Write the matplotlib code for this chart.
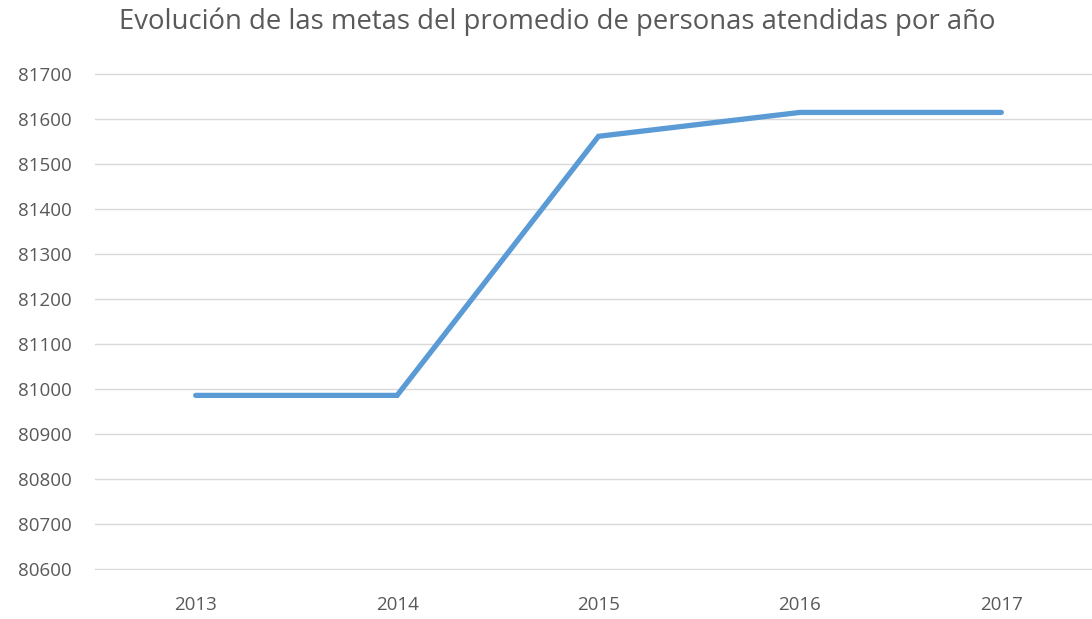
import matplotlib

matplotlib.use("Agg")
import matplotlib.pyplot as plt
import numpy as np

YEARS = ["2013", "2014", "2015", "2016", "2017"]
METAS = [80986, 80986, 81561, 81614, 81614]
Y_TICKS = list(range(80600, 81701, 100))

INK = "#595959"
LINE = "#5B9BD5"
GRID = "#D9D9D9"

plt.rcParams.update({"font.family": ["Open Sans", "DejaVu Sans"], "text.color": INK})

fig = plt.figure(figsize=(10.92, 6.19), dpi=100)
W, H = 1092, 619
# plot area in pixel coords: x 95..1102, y 73..570
ax = fig.add_axes([95 / W, 1 - 570 / H, 1007 / W, (570 - 73) / H])

x = np.arange(len(YEARS))
ax.plot(x, METAS, color=LINE, linewidth=3.8, solid_capstyle="round", solid_joinstyle="miter", zorder=3)

ax.set_xlim(-0.5, len(YEARS) - 0.5)
ax.set_ylim(Y_TICKS[0] - 1.5, Y_TICKS[-1] + 1.5)
ax.set_yticks(Y_TICKS, [str(v) for v in Y_TICKS])
ax.set_xticks(x, YEARS)
ax.grid(axis="y", color=GRID, linewidth=1.0)
ax.set_axisbelow(True)
for s in ax.spines.values():
    s.set_visible(False)
ax.tick_params(axis="both", length=0, labelsize=13.5, labelcolor=INK)
ax.tick_params(axis="y", pad=17)
ax.tick_params(axis="x", pad=19)

fig.text(557 / W, 1 - 22 / H, "Evolución de las metas del promedio de personas atendidas por año",
         ha="center", va="center", fontsize=19.8, color=INK)

fig.savefig("out.png", dpi=100)
